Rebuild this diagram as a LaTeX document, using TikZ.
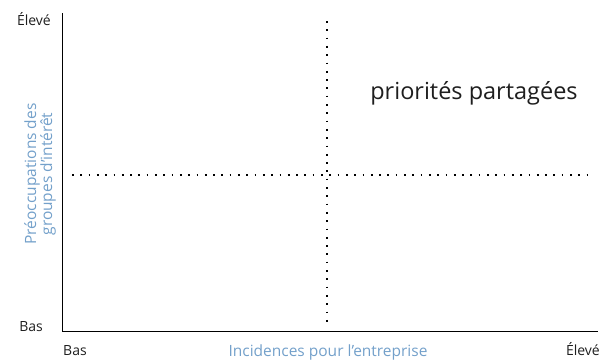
\documentclass[tikz,border=0pt]{standalone}
\usepackage{fontspec}
\setmainfont{Open Sans}
\usepackage{xcolor}
\usepackage{tikz}
\usetikzlibrary{positioning}
\definecolor{axisblue}{RGB}{115, 160, 202}
\definecolor{labelgray}{RGB}{30, 30, 30}

\begin{document}
\begin{tikzpicture}[x=1pt, y=-1pt,
    tick/.style={font=\fontsize{14}{16}\selectfont, text=labelgray, inner sep=0pt},
    axislabel/.style={font=\fontsize{15.5}{16}\selectfont, text=axisblue, align=center, inner sep=0pt},
    griddots/.style={line width=1.7pt, dash pattern=on 1.7pt off 6.6pt}]
    \useasboundingbox (0,0) rectangle (600,359);

    % Axes
    \coordinate (origin) at (62,331);
    \coordinate (ytop) at (62,13);
    \coordinate (xend) at (598,331);
    \draw[line width=1pt] (ytop) -- (origin) -- (xend);

    % Dotted quadrant dividers
    \coordinate (vtop) at (327,21);
    \coordinate (vbot) at (327,322);
    \coordinate (hleft) at (72,175);
    \coordinate (hright) at (588,175);
    \draw[griddots] (vtop) -- (vbot);
    \draw[griddots] (hleft) -- (hright);

    % Scale labels
    \node[tick, anchor=east] (yhigh) at (51,19) {Élevé};
    \node[tick, anchor=east] (ylow) at (43,327) {Bas};
    \node[tick, anchor=west] (xlow) at (63,351) {Bas};
    \node[tick, anchor=east] (xhigh) at (600,349) {Élevé};

    % Axis titles
    \node[axislabel] (xtitle) at (328,352) {Incidences pour l’entreprise};
    \node[axislabel, rotate=90] (ytitle) at (40,174) {Préoccupations des\\groupes d’intérêt};

    % Quadrant label
    \node[font=\fontsize{23.5}{26}\selectfont, text=labelgray] (shared) at (474,93) {priorités partagées};
\end{tikzpicture}
\end{document}
